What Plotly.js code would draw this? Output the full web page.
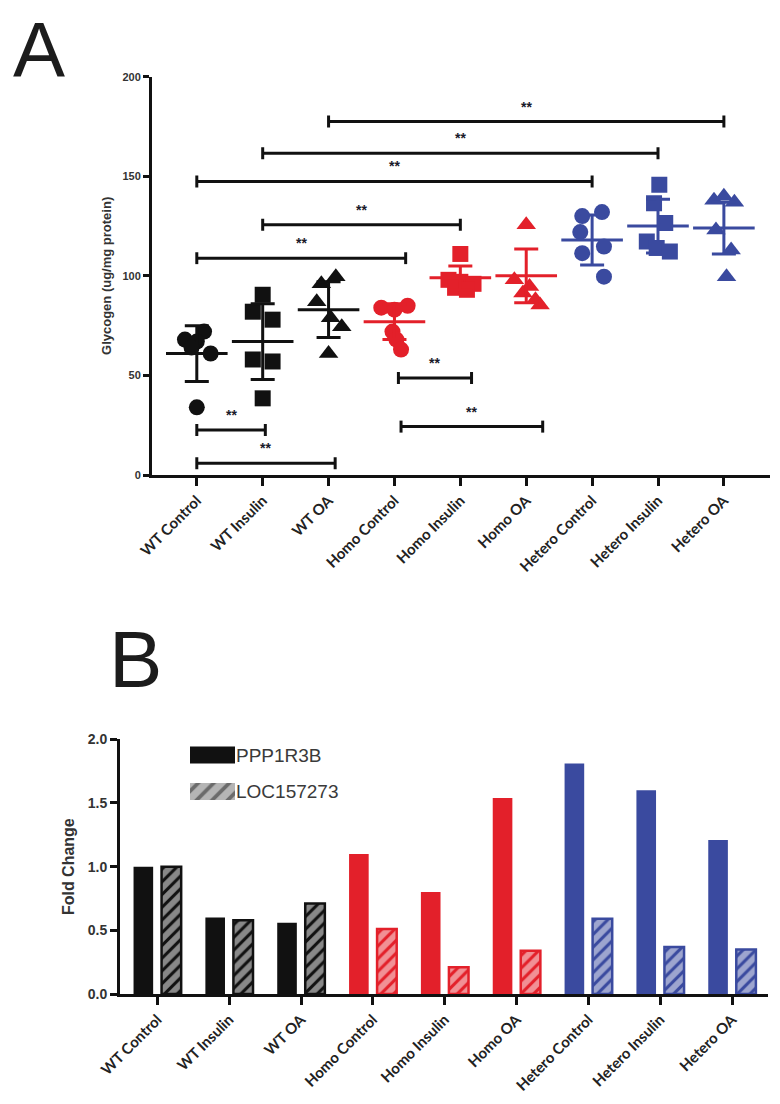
<!DOCTYPE html>
<html>
<head>
<meta charset="utf-8">
<script src="https://cdn.plot.ly/plotly-3.0.1.min.js"></script>
<style>html,body{margin:0;padding:0;background:#fff;}#chart{width:780px;height:1104px;}</style>
</head>
<body>
<div id="chart"></div>
<script>
// ---------- DATA ----------
const categories = ['WT Control','WT Insulin','WT OA','Homo Control','Homo Insulin','Homo OA','Hetero Control','Hetero Insulin','Hetero OA'];

// Panel A: glycogen (ug/mg protein), individual replicates
const wtControl     = [72, 68, 67, 64, 61, 34];
const wtInsulin     = [90.5, 82, 78, 58, 57, 38.5];
const wtOA          = [99.6, 96, 87, 79, 74.5, 61];
const homoControl   = [84, 85, 83, 72, 68, 63];
const homoInsulin   = [111, 98, 97, 96, 94, 93];
const homoOA        = [125.6, 98, 94.6, 91.4, 88, 85.4];
const heteroControl = [132, 130, 122, 114.7, 111.4, 99.6];
const heteroInsulin = [145.7, 136.5, 126.5, 117.2, 114, 112.2];
const heteroOA      = [138, 140, 137, 123, 113, 99.6];
const glycogenGroups = [wtControl, wtInsulin, wtOA, homoControl, homoInsulin, homoOA, heteroControl, heteroInsulin, heteroOA];

// horizontal scatter of replicates within a category (category units)
const spreadWtControl     = [0.11, -0.18, 0, -0.08, 0.21, 0];
const spreadWtInsulin     = [0, -0.15, 0.15, -0.15, 0.15, 0];
const spreadWtOA          = [0.11, -0.11, -0.18, 0.03, 0.2, 0];
const spreadHomoControl   = [-0.2, 0.2, 0, -0.03, 0.03, 0.1];
const spreadHomoInsulin   = [0, -0.18, 0, 0.2, -0.08, 0.1];
const spreadHomoOA        = [0, -0.18, 0.05, -0.05, 0.14, 0.21];
const spreadHeteroControl = [0.15, -0.15, -0.18, 0.18, -0.15, 0.18];
const spreadHeteroInsulin = [0.02, -0.06, 0.11, -0.17, -0.02, 0.18];
const spreadHeteroOA      = [-0.15, 0, 0.16, -0.12, 0.11, 0.04];
const spreads = [spreadWtControl, spreadWtInsulin, spreadWtOA, spreadHomoControl, spreadHomoInsulin, spreadHomoOA, spreadHeteroControl, spreadHeteroInsulin, spreadHeteroOA];

const glycogenMean = [61, 67, 83, 77, 99, 100, 118, 125, 124];
const glycogenSD   = [14, 19, 14, 9, 6, 13.5, 12.5, 13.5, 13];

// significance brackets (category index from / to, glycogen level)
const sigFrom  = [2, 1, 0, 1, 0, 3.06, 3.1, 0, 0];
const sigTo    = [8, 7, 6, 4, 3.17, 4.17, 5.25, 1.04, 2.1];
const sigLevel = [177.5, 161.6, 147.4, 125.6, 108.9, 48.7, 24.3, 22.6, 5.9];
const sigText  = ['**','**','**','**','**','**','**','**','**'];

// Panel B: fold change
const seriesNames = ['PPP1R3B', 'LOC157273'];
const ppp1r3b   = [1.00, 0.60, 0.56, 1.10, 0.80, 1.54, 1.81, 1.60, 1.21];
const loc157273 = [1.00, 0.58, 0.71, 0.51, 0.21, 0.34, 0.59, 0.37, 0.35];

// ---------- STYLE ----------
const BLACK = '#111111', RED = '#e3202a', BLUE = '#3a4a9f';
const groupColor = [BLACK, BLACK, BLACK, RED, RED, RED, BLUE, BLUE, BLUE];
const groupSymbol = ['circle','square','triangle-up','circle','square','triangle-up','circle','square','triangle-up'];
const symbolSize = {'circle': 16, 'square': 16, 'triangle-up': 17};
const W = 780, H = 1104;
const px = (v) => v / W, py = (v) => 1 - v / H;
const tickFontA = {family: 'Liberation Sans', size: 11, color: '#333', weight: 'bold'};
const catFont = {family: 'Lato', size: 15, color: '#222', weight: 'bold'};

const traces = [];
// Panel A points
glycogenGroups.forEach((vals, i) => {
  traces.push({
    type: 'scatter', mode: 'markers', xaxis: 'x', yaxis: 'y', showlegend: false, hoverinfo: 'skip',
    x: vals.map((v, k) => i + spreads[i][k]), y: vals,
    marker: {symbol: groupSymbol[i], size: symbolSize[groupSymbol[i]], color: groupColor[i], line: {width: 0}}
  });
});
// Panel A mean +/- SD
glycogenMean.forEach((m, i) => {
  traces.push({
    type: 'scatter', mode: 'markers', xaxis: 'x', yaxis: 'y', showlegend: false, hoverinfo: 'skip',
    x: [i], y: [m],
    marker: {symbol: 'line-ew', size: 44, color: groupColor[i], line: {width: 3, color: groupColor[i]}},
    error_y: {type: 'data', array: [glycogenSD[i]], visible: true, color: groupColor[i], thickness: 3, width: 12}
  });
});

// Panel B bars
traces.push({
  type: 'bar', name: seriesNames[0], xaxis: 'x2', yaxis: 'y2', showlegend: false, hoverinfo: 'skip',
  x: categories, y: ppp1r3b,
  marker: {color: groupColor, line: {width: 0}}
});
traces.push({
  type: 'bar', name: seriesNames[1], xaxis: 'x2', yaxis: 'y2', showlegend: false, hoverinfo: 'skip',
  x: categories, y: loc157273,
  marker: {color: groupColor, line: {width: 2.5, color: groupColor},
           pattern: {shape: '/', fillmode: 'overlay', fgcolor: '#ffffff', size: 9, solidity: 0.66}}
});
// Panel B legend swatches (small axes)
traces.push({
  type: 'bar', orientation: 'h', xaxis: 'x3', yaxis: 'y3', showlegend: false, hoverinfo: 'skip',
  y: [seriesNames[1], seriesNames[0]], x: [1, 1], width: 0.46,
  marker: {color: ['#6b6b6b', BLACK], line: {width: 0},
           pattern: {shape: ['/', ''], fillmode: 'overlay', fgcolor: '#ffffff', size: 11, solidity: 0.66}}
});

// brackets
const shapes = [];
const annotations = [];
sigLevel.forEach((lvl, k) => {
  const ln = {color: BLACK, width: 3};
  shapes.push({type: 'line', xref: 'x', yref: 'y', x0: sigFrom[k], x1: sigTo[k], y0: lvl, y1: lvl, line: ln});
  [sigFrom[k], sigTo[k]].forEach(xe => {
    shapes.push({type: 'line', xref: 'x', yref: 'y', ysizemode: 'pixel', yanchor: lvl, y0: -6, y1: 6, x0: xe, x1: xe, line: ln});
  });
  annotations.push({xref: 'x', yref: 'y', x: (sigFrom[k] + sigTo[k]) / 2, y: lvl, yshift: 15, text: sigText[k],
    showarrow: false, font: {family: 'Liberation Sans', size: 14, color: '#1a1a2a', weight: 'bold'}});
});
annotations.push({xref: 'paper', yref: 'paper', x: px(39), y: py(50), xanchor: 'center', yanchor: 'middle', text: 'A', showarrow: false,
  font: {family: 'Liberation Sans', size: 78, color: '#1c1c1c'}});
annotations.push({xref: 'paper', yref: 'paper', x: px(135), y: py(659), xanchor: 'center', yanchor: 'middle', text: 'B', showarrow: false,
  font: {family: 'Liberation Sans', size: 80, color: '#1c1c1c'}});

const layout = {
  width: W, height: H, margin: {l: 0, r: 0, t: 0, b: 0},
  paper_bgcolor: '#fff', plot_bgcolor: 'rgba(0,0,0,0)',
  font: {family: 'Liberation Sans', color: '#222'},
  barmode: 'group', bargap: 0.22, bargroupgap: 0.3,
  showlegend: false,
  xaxis: {domain: [px(152), px(770)], anchor: 'y', range: [-0.68, 8.7],
    tickmode: 'array', tickvals: categories.map((c, i) => i), ticktext: categories, tickangle: -45,
    tickfont: catFont, ticks: 'outside', ticklen: 8, tickwidth: 3, tickcolor: BLACK,
    showline: true, linewidth: 3, linecolor: BLACK, showgrid: false, zeroline: false},
  yaxis: {domain: [py(475), py(76.7)], anchor: 'x', range: [0, 200],
    tickvals: [0, 50, 100, 150, 200], tickfont: tickFontA, ticks: 'outside', ticklen: 6, tickwidth: 3, tickcolor: BLACK,
    showline: true, linewidth: 3, linecolor: BLACK, showgrid: false, zeroline: false,
    title: {text: 'Glycogen (ug/mg protein)', font: {family: 'Liberation Sans', size: 13, color: '#333', weight: 'bold'}, standoff: 8}},
  xaxis2: {domain: [px(120), px(768)], anchor: 'y2', range: [-0.52, 8.5], type: 'category',
    tickangle: -45, tickfont: catFont, ticks: 'outside', ticklen: 8, tickwidth: 3, tickcolor: BLACK,
    showline: true, linewidth: 3, linecolor: BLACK, showgrid: false, zeroline: false},
  yaxis2: {domain: [py(994), py(739.3)], anchor: 'x2', range: [0, 2],
    tickvals: [0, 0.5, 1, 1.5, 2], tickformat: '.1f',
    tickfont: {family: 'Liberation Sans', size: 14, color: '#333', weight: 'bold'},
    ticks: 'outside', ticklen: 7, tickwidth: 3, tickcolor: BLACK,
    showline: true, linewidth: 3, linecolor: BLACK, showgrid: false, zeroline: false,
    title: {text: 'Fold Change', font: {family: 'Liberation Sans', size: 16, color: '#333', weight: 'bold'}, standoff: 10}},
  xaxis3: {domain: [px(190), px(235)], anchor: 'y3', range: [0, 1], visible: false, fixedrange: true},
  yaxis3: {domain: [py(809.75), py(736.75)], anchor: 'x3', side: 'right', type: 'category',
    showline: false, showgrid: false, zeroline: false, ticks: '',
    tickfont: {family: 'Liberation Sans', size: 19, color: '#3a3a3a'}},
  shapes: shapes,
  annotations: annotations
};

Plotly.newPlot('chart', traces, layout, {staticPlot: true});
</script>
</body>
</html>
